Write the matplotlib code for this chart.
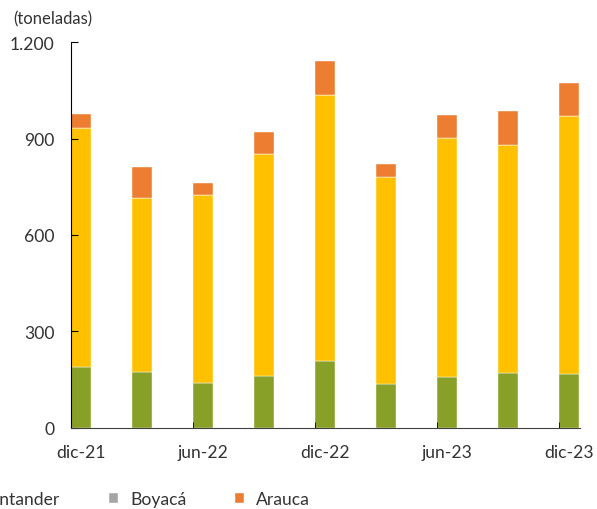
import numpy as np
from matplotlib import pyplot as plt

plt.rcParams['font.family'] = ['Lato', 'DejaVu Sans']

# data (toneladas)
periods = ['dic-21', 'mar-22', 'jun-22', 'sep-22', 'dic-22', 'mar-23', 'jun-23', 'sep-23', 'dic-23']
casanare = [189, 173, 138, 161, 206, 135, 158, 171, 167]
santander = [743, 543, 586, 691, 831, 646, 743, 710, 802]
boyaca = [0, 0, 0, 0, 0, 0, 0, 0, 0]
arauca = [44, 96, 37, 69, 104, 40, 72, 104, 104]

names = ['Casanare', 'Santander', 'Boyacá', 'Arauca']
colors = ['#88A027', '#FFC000', '#A5A5A5', '#ED7D31']
txt = '#333333'
fs = 12.6

fig = plt.figure(figsize=(5.97, 5.10), dpi=100)
ax = fig.add_axes([71/597, 81.5/510, 509/597, 385.2/510])

x = np.arange(len(periods))
w = 0.33
bottom = np.zeros(len(periods))
for vals, name, c in zip([casanare, santander, boyaca, arauca], names, colors):
    ax.bar(x, vals, w, bottom=bottom, align='edge', color=c, label=name,
           edgecolor='white', linewidth=0.3)
    bottom += np.array(vals)

ax.set_xlim(0, 8.34)
ax.set_ylim(0, 1200)
ax.set_yticks([0, 300, 600, 900, 1200])
ax.set_yticklabels(['0', '300', '600', '900', '1.200'])
ax.tick_params(axis='y', direction='in', length=5, pad=12, labelsize=fs, labelcolor=txt)

ax.set_xticks(x[::2] + w/2)
ax.set_xticklabels(periods[::2])
ax.set_xticks(x[::2], minor=True)
ax.tick_params(axis='x', which='major', length=0, pad=12, labelsize=fs, labelcolor=txt)
ax.tick_params(axis='x', which='minor', direction='in', length=4)

for s in ['top', 'right']:
    ax.spines[s].set_visible(False)
ax.spines['left'].set_color('black')
ax.spines['bottom'].set_color('#404040')

fig.text(13/597, 1 - 19/510, '(toneladas)', fontsize=12, color=txt, va='center', ha='left')

leg = fig.legend(loc='center left', bbox_to_anchor=(0, 0.5), ncol=4, frameon=False,
                 fontsize=fs, handlelength=0.5, handleheight=0.5,
                 handletextpad=0.7, columnspacing=2.8, labelcolor=txt)
# shift legend so "Boyacá" starts at ~130 px and sits at y ~ 500 px
fig.canvas.draw()
bb = leg.get_texts()[2].get_window_extent()
dx = 130 - bb.x0
dy = (510 - 500) - (bb.y0 + bb.y1) / 2
leg.set_bbox_to_anchor((dx / 597, 0.5 + dy / 510), transform=fig.transFigure)

fig.savefig('out.png', dpi=100)
